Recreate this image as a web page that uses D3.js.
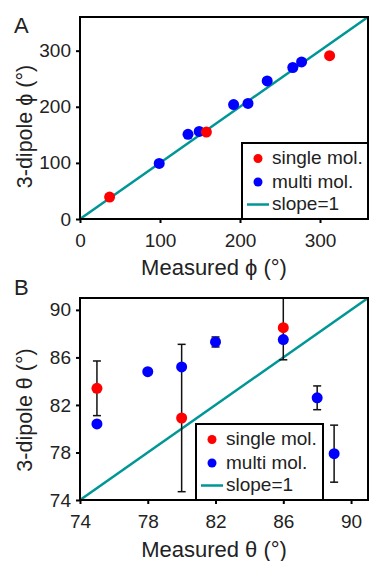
<!DOCTYPE html>
<html><head><meta charset="utf-8">
<script src="https://cdn.jsdelivr.net/npm/d3@7"></script>
<style>body{margin:0;background:#fff}svg{display:block}text{font-family:"Liberation Sans",Arial,sans-serif;fill:#222}</style>
</head><body><svg id="c" width="369" height="561"></svg>
<script>
// Panel A data (phi)
const phiTicks = [0, 100, 200, 300];
const phiSingleX = [37, 158, 312];
const phiSingleY = [39, 155, 291];
const phiMultiX = [99, 135, 149, 192, 210, 234, 266, 277];
const phiMultiY = [99, 151, 156, 204, 206, 246, 270, 280];
// Panel B data (theta)
const thetaTicks = [74, 78, 82, 86, 90];
const thetaSingleX = [75, 80, 86];
const thetaSingleY = [83.4, 80.9, 88.5];
const thetaSingleErr = [2.3, 6.2, 2.7];
const thetaMultiX = [75, 78, 80, 82, 86, 88, 89];
const thetaMultiY = [80.4, 84.8, 85.2, 87.3, 87.5, 82.6, 77.9];
const thetaMultiErr = [0, 0, 0, 0.42, 0, 1.0, 2.4];
const legendLabels = ["single mol.", "multi mol.", "slope=1"];

const svg = d3.select("#c");
const RED = "#ff0000", BLUE = "#0000ff", TEAL = "#009696";

function panel(cfg) {
  const {left, top, right, bottom, domain, ticks, letter, xTitle, yTitle, single, multi, legend, id} = cfg;
  const x = d3.scaleLinear().domain(domain).range([left, right]);
  const y = d3.scaleLinear().domain(domain).range([bottom, top]);
  const g = svg.append("g");
  g.append("defs").append("clipPath").attr("id", id).append("rect")
    .attr("x", left).attr("y", top).attr("width", right - left).attr("height", bottom - top);

  const xa = g.append("g").attr("transform", `translate(0,${bottom})`)
    .call(d3.axisBottom(x).tickValues(ticks).tickSize(4).tickPadding(11));
  const ya = g.append("g").attr("transform", `translate(${left},0)`)
    .call(d3.axisLeft(y).tickValues(ticks).tickSize(4).tickPadding(5));
  [xa, ya].forEach(a => {
    a.select(".domain").remove();
    a.selectAll("line").attr("stroke", "#000").attr("stroke-width", 2);
    a.selectAll("text").style("font-size", "19px").attr("fill", "#222");
  });

  const pg = g.append("g").attr("clip-path", `url(#${id})`);
  pg.append("line").attr("x1", x(domain[0])).attr("y1", y(domain[0]))
    .attr("x2", x(domain[1])).attr("y2", y(domain[1]))
    .attr("stroke", TEAL).attr("stroke-width", 2.5);

  function errs(s) {
    if (!s.err) return;
    s.x.forEach((v, i) => {
      const e = s.err[i]; if (!e) return;
      const cx = x(v), y1 = y(s.y[i] + e), y2 = y(s.y[i] - e);
      pg.append("line").attr("x1", cx).attr("x2", cx).attr("y1", y1).attr("y2", y2).attr("stroke", "#111").attr("stroke-width", 1.5);
      [y1, y2].forEach(yy => pg.append("line").attr("x1", cx - 4).attr("x2", cx + 4).attr("y1", yy).attr("y2", yy).attr("stroke", "#111").attr("stroke-width", 1.5));
    });
  }
  errs(multi); errs(single);
  [multi, single].forEach(s => {
    pg.selectAll(null).data(s.x).enter().append("circle")
      .attr("cx", d => x(d)).attr("cy", (d, i) => y(s.y[i])).attr("r", 5.5).attr("fill", s.color);
  });

  // legend
  const L = legend;
  g.append("rect").attr("x", L.x).attr("y", L.y).attr("width", L.w).attr("height", L.h)
    .attr("fill", "#fff").attr("stroke", "#000").attr("stroke-width", 2);
  const rows = [L.y + 15.5, L.y + 39, L.y + 61.5];
  g.append("circle").attr("cx", L.x + 16).attr("cy", rows[0]).attr("r", 4.5).attr("fill", RED);
  g.append("circle").attr("cx", L.x + 16).attr("cy", rows[1]).attr("r", 4.5).attr("fill", BLUE);
  g.append("line").attr("x1", L.x + 5).attr("x2", L.x + 27).attr("y1", rows[2]).attr("y2", rows[2]).attr("stroke", TEAL).attr("stroke-width", 2.5);
  legendLabels.forEach((t, i) => g.append("text").attr("x", L.x + 30).attr("y", rows[i] + 5.5).style("font-size", "19px").text(t));

  // frame
  g.append("rect").attr("x", left).attr("y", top).attr("width", right - left).attr("height", bottom - top)
    .attr("fill", "none").attr("stroke", "#000").attr("stroke-width", 2);

  g.append("text").attr("x", 14).attr("y", cfg.letterY).style("font-size", "22px").text(letter);
  g.append("text").attr("x", 214).attr("y", bottom + cfg.xTitleOff).attr("text-anchor", "middle").style("font-size", "22px").text(xTitle);
  g.append("text").attr("transform", `translate(32,${(top + bottom) / 2 + cfg.yTitleShift}) rotate(-90)`).attr("text-anchor", "middle").style("font-size", "21.5px").text(yTitle);
}

panel({id: "ca", left: 80, top: 17, right: 368, bottom: 219, domain: [0, 360], ticks: phiTicks, letter: "A", letterY: 33,
  xTitle: "Measured ϕ (°)", yTitle: "3-dipole ϕ (°)", xTitleOff: 56, yTitleShift: 8.5,
  single: {x: phiSingleX, y: phiSingleY, color: RED}, multi: {x: phiMultiX, y: phiMultiY, color: BLUE},
  legend: {x: 242, y: 143, w: 130, h: 76}});
panel({id: "cb", left: 80, top: 298, right: 368, bottom: 500, domain: [74, 91], ticks: thetaTicks, letter: "B", letterY: 295,
  xTitle: "Measured θ (°)", yTitle: "3-dipole θ (°)", xTitleOff: 57, yTitleShift: 11,
  single: {x: thetaSingleX, y: thetaSingleY, err: thetaSingleErr, color: RED},
  multi: {x: thetaMultiX, y: thetaMultiY, err: thetaMultiErr, color: BLUE},
  legend: {x: 196, y: 424, w: 127, h: 76}});
</script></body></html>
